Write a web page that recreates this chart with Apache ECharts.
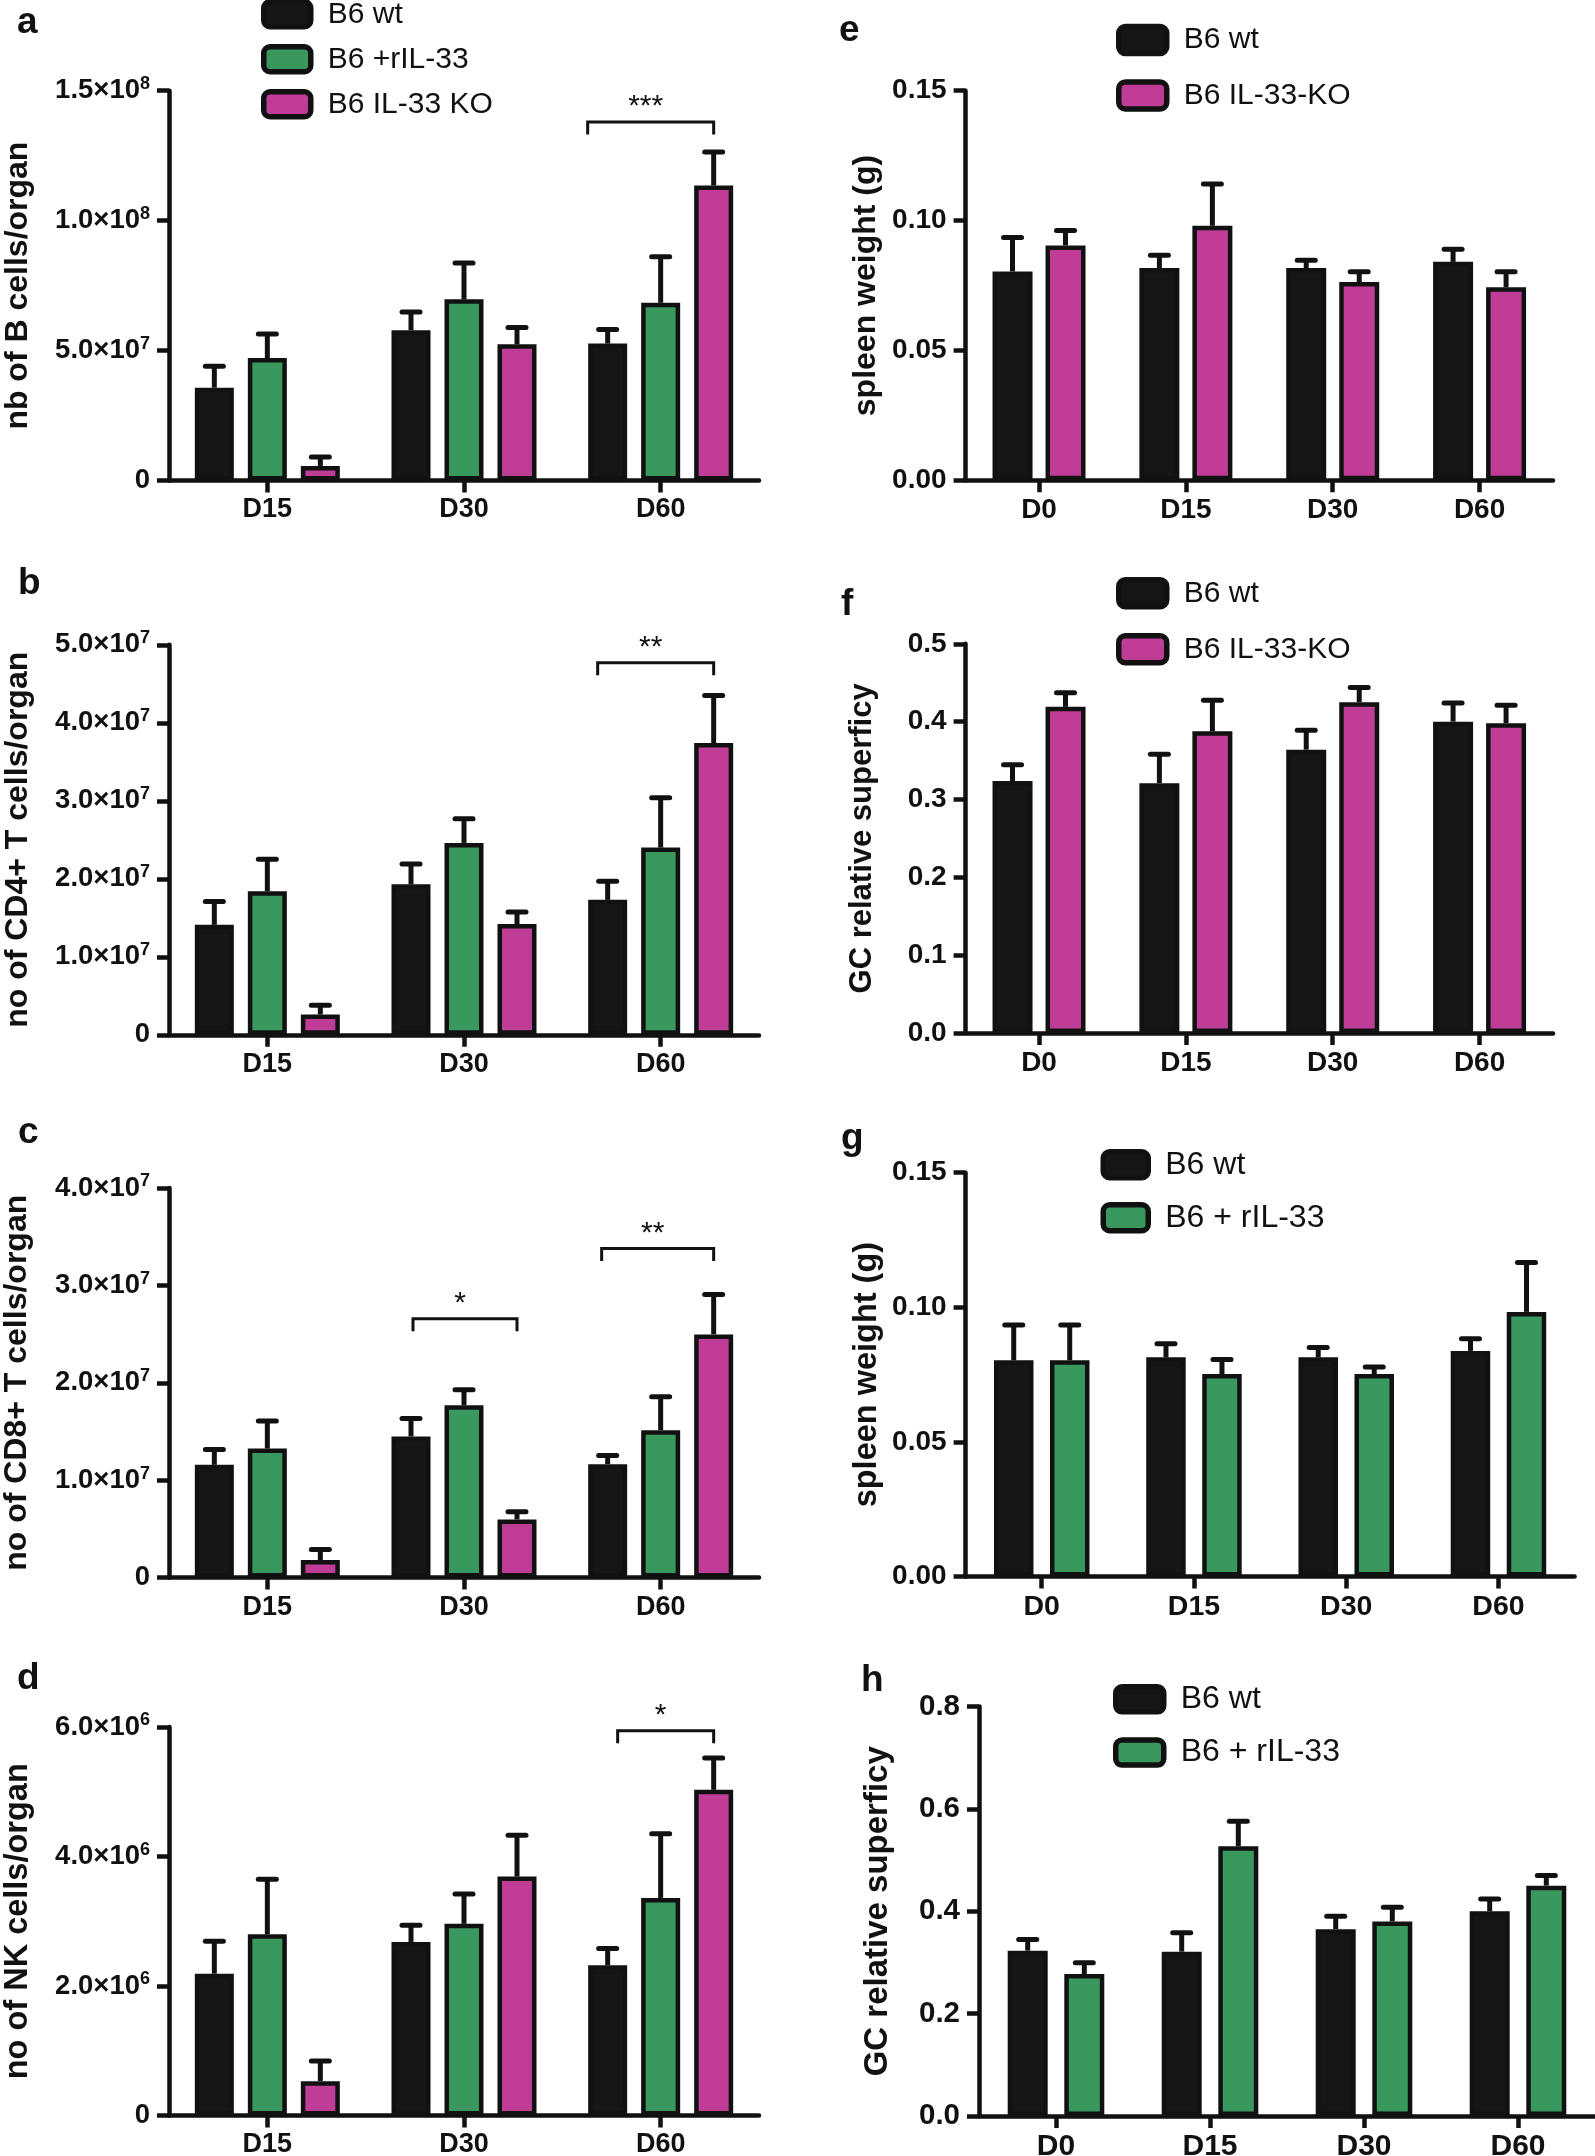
<!DOCTYPE html>
<html><head><meta charset="utf-8">
<script src="https://cdn.jsdelivr.net/npm/echarts@6/dist/echarts.min.js"></script>
<style>html,body{margin:0;padding:0;background:#fff}#c{width:1595px;height:2156px}</style>
</head><body><div id="c"></div>
<script>
// ---------------- DATA ----------------
const daysLeft = ['D15', 'D30', 'D60'];
const daysRight = ['D0', 'D15', 'D30', 'D60'];

// a: nb of B cells/organ
const aTicks = [0, 5e7, 1e8, 1.5e8];
const aWt = [3.57e7, 5.78e7, 5.27e7];      const aWtErr = [0.83e7, 0.70e7, 0.54e7];
const aRil = [4.71e7, 6.97e7, 6.84e7];     const aRilErr = [0.93e7, 1.40e7, 1.77e7];
const aKo = [0.56e7, 5.24e7, 11.35e7];     const aKoErr = [0.34e7, 0.65e7, 1.29e7];
const aSig = [{cat: 2, value: 1.38e8, text: '***'}];

// b: no of CD4+ T cells/organ
const bTicks = [0, 1e7, 2e7, 3e7, 4e7, 5e7];
const bWt = [1.41e7, 1.93e7, 1.73e7];      const bWtErr = [0.30e7, 0.26e7, 0.24e7];
const bRil = [1.84e7, 2.46e7, 2.40e7];     const bRilErr = [0.41e7, 0.31e7, 0.64e7];
const bKo = [0.26e7, 1.42e7, 3.74e7];      const bKoErr = [0.12e7, 0.155e7, 0.61e7];
const bSig = [{cat: 2, value: 4.77e7, text: '**'}];

// c: no of CD8+ T cells/organ
const cTicks = [0, 1e7, 2e7, 3e7, 4e7];
const cWt = [1.158e7, 1.449e7, 1.165e7];   const cWtErr = [0.156e7, 0.185e7, 0.089e7];
const cRil = [1.325e7, 1.769e7, 1.513e7];  const cRilErr = [0.284e7, 0.16e7, 0.345e7];
const cKo = [0.18e7, 0.597e7, 2.497e7];    const cKoErr = [0.108e7, 0.078e7, 0.409e7];
const cSig = [{cat: 1, value: 2.657e7, text: '*'}, {cat: 2, value: 3.379e7, text: '**'}];

// d: no of NK cells/organ
const dTicks = [0, 2e6, 4e6, 6e6];
const dWt = [2.19e6, 2.68e6, 2.32e6];      const dWtErr = [0.50e6, 0.26e6, 0.26e6];
const dRil = [2.80e6, 2.96e6, 3.36e6];     const dRilErr = [0.85e6, 0.46e6, 0.99e6];
const dKo = [0.53e6, 3.69e6, 5.03e6];      const dKoErr = [0.31e6, 0.64e6, 0.49e6];
const dSig = [{cat: 2, value: 5.943e6, text: '*'}];

// e: spleen weight (g), wt vs IL-33-KO
const eTicks = [0, 0.05, 0.10, 0.15];
const eWt = [0.0804, 0.0817, 0.0817, 0.0841]; const eWtErr = [0.0131, 0.0049, 0.0030, 0.0049];
const eKo = [0.0904, 0.0980, 0.0763, 0.0743]; const eKoErr = [0.0058, 0.0161, 0.0040, 0.0060];

// f: GC relative superficy, wt vs IL-33-KO
const fTicks = [0, 0.1, 0.2, 0.3, 0.4, 0.5];
const fWt = [0.3236, 0.321, 0.364, 0.400];  const fWtErr = [0.021, 0.037, 0.025, 0.024];
const fKo = [0.419, 0.3876, 0.425, 0.398];  const fKoErr = [0.018, 0.040, 0.019, 0.023];

// g: spleen weight (g), wt vs + rIL-33
const gTicks = [0, 0.05, 0.10, 0.15];
const gWt = [0.0803, 0.0814, 0.0814, 0.0838]; const gWtErr = [0.0131, 0.0051, 0.0037, 0.0045];
const gRil = [0.0803, 0.0752, 0.0752, 0.0983]; const gRilErr = [0.0131, 0.0054, 0.0026, 0.0183];

// h: GC relative superficy, wt vs + rIL-33
const hTicks = [0, 0.2, 0.4, 0.6, 0.8];
const hWt = [0.323, 0.321, 0.365, 0.400];   const hWtErr = [0.022, 0.037, 0.025, 0.024];
const hRil = [0.2774, 0.527, 0.380, 0.450]; const hRilErr = [0.022, 0.049, 0.028, 0.020];

// ---------------- STYLE / LAYOUT ----------------
const FONT = '"Liberation Sans", Arial, Helvetica, sans-serif';
const INK = '#111111';
const C_WT = '#161616', C_RIL = '#38985e', C_KO = '#bf3d96';
const BORDER = 4.5;

const panels = [
  {key:'a', cats:daysLeft, ticks:aTicks, sci:true, title:'nb of B cells/organ',
   series:[['B6 wt',aWt,aWtErr,C_WT],['B6 +rIL-33',aRil,aRilErr,C_RIL],['B6 IL-33 KO',aKo,aKoErr,C_KO]], sig:aSig, sigAdj:[-20],
   box:{left:169,top:90.7,width:590,height:389.8}, vis:39, sp:53, tf:27.5, cf:27, yt:32, tx:18,
   letter:[17,36], legend:{left:261,top:-1,w:47,h:25,gap:14.5,fs:30}},
  {key:'b', cats:daysLeft, ticks:bTicks, sci:true, title:'no of CD4+ T cells/organ',
   series:[['B6 wt',bWt,bWtErr,C_WT],['B6 +rIL-33',bRil,bRilErr,C_RIL],['B6 IL-33 KO',bKo,bKoErr,C_KO]], sig:bSig, sigAdj:[-10],
   box:{left:169,top:644.8,width:590,height:390}, vis:39, sp:53, tf:27.5, cf:27, yt:32, tx:18,
   letter:[18,597]},
  {key:'c', cats:daysLeft, ticks:cTicks, sci:true, title:'no of CD8+ T cells/organ',
   series:[['B6 wt',cWt,cWtErr,C_WT],['B6 +rIL-33',cRil,cRilErr,C_RIL],['B6 IL-33 KO',cKo,cKoErr,C_KO]], sig:cSig, sigAdj:[2,-6],
   box:{left:169,top:1188,width:590,height:389.6}, vis:39, sp:53, tf:27.5, cf:27, yt:32, tx:17,
   letter:[18,1146]},
  {key:'d', cats:daysLeft, ticks:dTicks, sci:true, title:'no of NK cells/organ',
   series:[['B6 wt',dWt,dWtErr,C_WT],['B6 +rIL-33',dRil,dRilErr,C_RIL],['B6 IL-33 KO',dKo,dKoErr,C_KO]], sig:dSig, sigAdj:[10],
   box:{left:169,top:1727,width:590,height:388.5}, vis:39, sp:53, tf:27.5, cf:27, yt:32.5, tx:18,
   letter:[17,1692]},
  {key:'e', cats:daysRight, ticks:eTicks, dec:2, title:'spleen weight (g)',
   series:[['B6 wt',eWt,eWtErr,C_WT],['B6 IL-33-KO',eKo,eKoErr,C_KO]], sig:[],
   box:{left:965.6,top:90.7,width:587.4,height:389.6}, vis:40, sp:53, tf:28, cf:28, yt:32, tx:866,
   letter:[839,44], legend:{left:1116,top:23.8,w:48,h:27,gap:22.9,fs:30}},
  {key:'f', cats:daysRight, ticks:fTicks, dec:1, title:'GC relative superficy',
   series:[['B6 wt',fWt,fWtErr,C_WT],['B6 IL-33-KO',fKo,fKoErr,C_KO]], sig:[],
   box:{left:965.6,top:643.8,width:587.4,height:389.2}, vis:40, sp:53, tf:28, cf:28, yt:31, tx:862,
   letter:[841,618], legend:{left:1116,top:577,w:48,h:27,gap:23.5,fs:30}},
  {key:'g', cats:daysRight, ticks:gTicks, dec:2, title:'spleen weight (g)',
   series:[['B6 wt',gWt,gWtErr,C_WT],['B6 + rIL-33',gRil,gRilErr,C_RIL]], sig:[],
   box:{left:965.6,top:1172.7,width:609,height:403.8}, vis:39.5, sp:56, tf:28, cf:28.5, yt:32.5, tx:867.5,
   letter:[841,1152], legend:{left:1100.5,top:1148.8,w:45,h:26,gap:20.9,fs:32}},
  {key:'h', cats:daysRight, ticks:hTicks, dec:1, title:'GC relative superficy',
   series:[['B6 wt',hWt,hWtErr,C_WT],['B6 + rIL-33',hRil,hRilErr,C_RIL]], sig:[],
   box:{left:979,top:1706.6,width:616,height:409.3}, vis:40, sp:56.6, tf:29.5, cf:30, yt:33, tx:877.5,
   letter:[861,1694], legend:{left:1113,top:1683.3,w:48,h:25,gap:21.3,fs:32}}
];

// ---------------- BUILD ----------------
function sciFormatter(v) {
  if (v === 0) return '{m|0}';
  const ex = Math.floor(Math.log10(v) + 1e-9);
  const m = (v / Math.pow(10, ex)).toFixed(1);
  return '{m|' + m + '\u00d710}{e|' + ex + '}';
}

function errRender(offset) {
  return function (params, api) {
    const ci = api.value(0), v = api.value(1), e = api.value(2);
    const p0 = api.coord([ci, v]);
    const p1 = api.coord([ci, v + e]);
    const x = p0[0] + offset;
    return {type: 'group', children: [
      {type: 'line', shape: {x1: x, y1: p0[1], x2: x, y2: p1[1]}, style: {stroke: INK, lineWidth: 5}},
      {type: 'line', shape: {x1: x - 9, y1: p1[1], x2: x + 9, y2: p1[1]}, style: {stroke: INK, lineWidth: 5, lineCap: 'round'}}
    ]};
  };
}

function sigRender(offL, offR, texts, adj) {
  return function (params, api) {
    const p = api.coord([api.value(0), api.value(1)]);
    const xl = p[0] + offL + (adj[params.dataIndex] || 0), xr = p[0] + offR, y = p[1];
    return {type: 'group', children: [
      {type: 'polyline', shape: {points: [[xl, y + 12.5], [xl, y], [xr, y], [xr, y + 12.5]]},
       style: {stroke: INK, lineWidth: 3, fill: null}},
      {type: 'text', style: {text: texts[params.dataIndex], x: (xl + xr) / 2 - 5, y: y,
        font: '30px ' + FONT, fill: INK, align: 'center', verticalAlign: 'bottom',
        textAlign: 'center', textVerticalAlign: 'bottom'}}
    ]};
  };
}

const option = {
  backgroundColor: '#ffffff',
  animation: false,
  grid: [], xAxis: [], yAxis: [], series: [], legend: [],
  graphic: {elements: []}
};

panels.forEach((P, k) => {
  option.grid.push(Object.assign({containLabel: false, outerBoundsMode: 'none'}, P.box));
  const axisLine = {show: true, onZero: true, lineStyle: {color: INK, width: 4.5}};
  const axisTick = {show: true, length: 12, lineStyle: {color: INK, width: 4.5}};
  option.xAxis.push({
    type: 'category', gridIndex: k, data: P.cats, boundaryGap: true,
    axisLine: axisLine, axisTick: Object.assign({alignWithLabel: true}, axisTick),
    axisLabel: {color: INK, fontSize: P.cf, fontWeight: 'bold', fontFamily: FONT, margin: 16},
    splitLine: {show: false}
  });
  const t = P.ticks;
  option.yAxis.push({
    type: 'value', gridIndex: k, min: t[0], max: t[t.length - 1], interval: t[1] - t[0],
    axisLine: axisLine, axisTick: axisTick, splitLine: {show: false},
    axisLabel: P.sci ? {
      margin: 19, formatter: sciFormatter,
      rich: {
        m: {fontSize: P.tf, fontWeight: 'bold', fontFamily: FONT, color: INK, lineHeight: 31},
        e: {fontSize: 18, fontWeight: 'bold', fontFamily: FONT, color: INK, verticalAlign: 'top', lineHeight: 18}
      }
    } : {
      margin: 19, color: INK, fontSize: P.tf, fontWeight: 'bold', fontFamily: FONT,
      formatter: (v) => v.toFixed(P.dec)
    }
  });
  const n = P.series.length;
  const barW = P.vis;
  const gapPct = ((P.sp - barW) / barW * 100).toFixed(2) + '%';
  P.series.forEach((s, i) => {
    const off = (i - (n - 1) / 2) * P.sp;
    option.series.push({
      type: 'custom', name: s[0] + ' SEM', xAxisIndex: k, yAxisIndex: k, z: 1, clip: false,
      renderItem: errRender(off), encode: {x: 0, y: 1},
      data: s[1].map((v, j) => [j, v, s[2][j]]), silent: true
    });
    option.series.push({
      type: 'bar', name: s[0], xAxisIndex: k, yAxisIndex: k, z: 2,
      barWidth: barW, barGap: gapPct, data: s[1],
      itemStyle: {color: s[3], borderColor: INK, borderWidth: BORDER}
    });
  });
  if (P.sig.length) {
    const offL = (0 - (n - 1) / 2) * P.sp, offR = ((n - 1) - (n - 1) / 2) * P.sp;
    option.series.push({
      type: 'custom', name: 'sig ' + P.key, xAxisIndex: k, yAxisIndex: k, z: 3, clip: false, silent: true,
      renderItem: sigRender(offL, offR, P.sig.map(s => s.text), P.sigAdj || []), encode: {x: 0, y: 1},
      data: P.sig.map(s => [s.cat, s.value])
    });
  }
  if (P.legend) {
    const L = P.legend;
    option.legend.push({
      orient: 'vertical', left: L.left, top: L.top, padding: 0, selectedMode: false,
      itemWidth: L.w, itemHeight: L.h, itemGap: L.gap, icon: 'roundRect',
      itemStyle: {borderWidth: 5.5, borderColor: INK},
      textStyle: {fontSize: L.fs, fontFamily: FONT, color: INK, padding: [0, 0, 0, 12]},
      data: P.series.map(s => s[0])
    });
  }
  // panel letter
  option.graphic.elements.push({
    type: 'text', x: P.letter[0], y: P.letter[1] - 0.3465 * 37, silent: true,
    style: {text: P.key, font: 'bold 37px ' + FONT, fill: INK, align: 'left', verticalAlign: 'middle',
            textAlign: 'left', textVerticalAlign: 'middle'}
  });
  // y-axis title
  option.graphic.elements.push({
    type: 'text', x: P.tx, y: P.box.top + P.box.height / 2, rotation: Math.PI / 2, silent: true,
    style: {text: P.title, font: 'bold ' + P.yt + 'px ' + FONT, fill: INK, align: 'center', verticalAlign: 'middle',
            textAlign: 'center', textVerticalAlign: 'middle'}
  });
});

const chart = echarts.init(document.getElementById('c'), null, {renderer: 'canvas', width: 1595, height: 2156});
chart.setOption(option);
</script>
</body></html>
